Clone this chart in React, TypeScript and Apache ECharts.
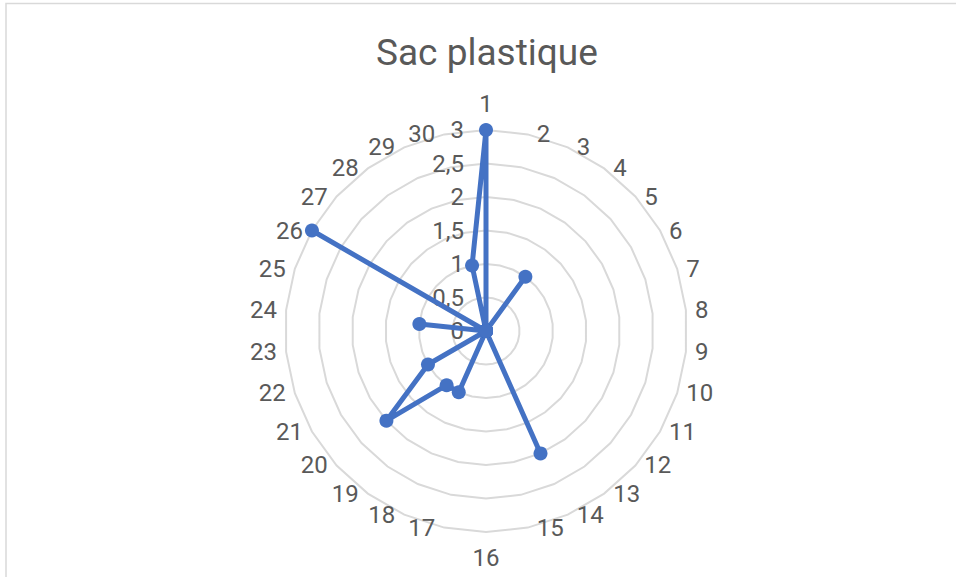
import React, { useEffect, useRef } from "react";
import * as echarts from "echarts";

const categories: string[] = Array.from({ length: 30 }, (_, i) => String(i + 1));
const values: number[] = [3, 0, 0, 1, 0, 0, 0, 0, 0, 0, 0, 0, 0, 2, 0, 0, 0, 1, 1, 2, 1, 0, 0, 1, 0, 3, 0, 0, 0, 1];
const valueMax = 3;
const valueSplits = 6;
const titleText = "Sac plastique";

export default function App() {
  const ref = useRef<HTMLDivElement>(null);
  useEffect(() => {
    if (!ref.current) return;
    const chart = echarts.init(ref.current, undefined, { renderer: "svg" });
    const n = categories.length;
    // ECharts radar runs counter-clockwise; reorder so categories read clockwise from top
    const order = [0, ...Array.from({ length: n - 1 }, (_, i) => n - 1 - i)];
    const indicator = order.map((idx, k) => {
      const vertical = idx === 0 || idx * 2 === n;
      return {
        name: categories[idx],
        min: 0,
        max: valueMax,
        nameGap: vertical ? 14 : 0,
        ...(k === 0 ? { axisLabel: { show: true } } : {}),
      };
    });
    const data = order.map((idx) => values[idx]);
    const grey = "#595959";
    chart.setOption({
      animation: false,
      backgroundColor: "#ffffff",
      title: {
        text: titleText,
        left: 371,
        top: 29,
        textStyle: { fontFamily: "Roboto", fontSize: 37, fontWeight: "normal", color: grey },
      },
      graphic: [
        {
          type: "rect",
          shape: { x: 6, y: 3.5, width: 1000, height: 700 },
          style: { fill: "none", stroke: "#d9d9d9", lineWidth: 1.5 },
          silent: true,
        },
      ],
      radar: {
        center: [486, 331],
        radius: 201,
        startAngle: 90,
        shape: "polygon",
        splitNumber: valueSplits,
        indicator,
        axisNameGap: 0,
        axisName: { color: grey, fontSize: 24, fontFamily: "Roboto", padding: [0, 9, 0, 9] },
        axisLine: { show: false },
        axisTick: { show: false },
        axisLabel: {
          show: false,
          color: grey,
          fontSize: 24,
          fontFamily: "Roboto",
          margin: 22,
          formatter: (v: number) => String(v).replace(".", ","),
        },
        splitLine: { lineStyle: { color: "#d9d9d9", width: 2 } },
        splitArea: { show: false },
      },
      series: [
        {
          type: "radar",
          symbol: "circle",
          symbolSize: 14,
          lineStyle: { color: "#4472c4", width: 5 },
          itemStyle: { color: "#4472c4" },
          data: [{ value: data, name: titleText }],
        },
      ],
    });
    return () => chart.dispose();
  }, []);
  return (
    <div
      ref={ref}
      style={{ position: "fixed", left: 0, top: 0, width: 956, height: 577 }}
    />
  );
}
